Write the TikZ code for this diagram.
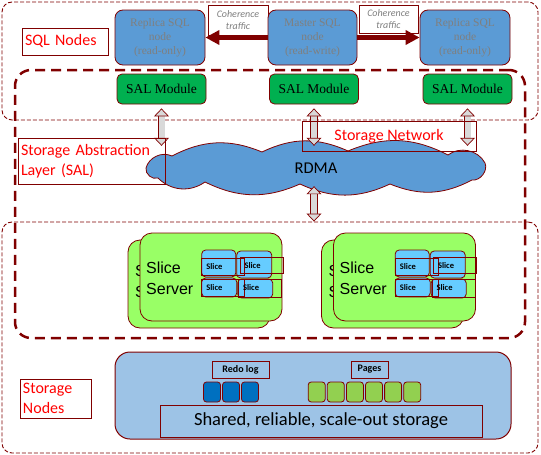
\documentclass[tikz,border=0pt]{standalone}
\usepackage{fontspec}
\setmainfont{Liberation Serif}
\newfontfamily\calibri{Carlito}
\newfontfamily\arialfont{Liberation Sans}
\usetikzlibrary{arrows.meta}
\definecolor{borderRed}{RGB}{128,0,0}
\definecolor{labelRed}{RGB}{255,0,0}
\definecolor{sqlBlue}{RGB}{91,155,213}
\definecolor{salGreen}{RGB}{0,176,80}
\definecolor{serverGreen}{RGB}{153,255,102}
\definecolor{sliceBlue}{RGB}{102,204,255}
\definecolor{storeBlue}{RGB}{157,195,230}
\definecolor{redoBlue}{RGB}{0,112,192}
\definecolor{pageGreen}{RGB}{146,208,80}
\definecolor{arrowGray}{RGB}{217,217,217}
\definecolor{textGray}{RGB}{127,127,127}
\tikzset{
    thin zone/.style={draw=borderRed, line width=0.9pt, dash pattern=on 4pt off 2pt, rounded corners=10pt, inner sep=0},
    thick zone/.style={draw=borderRed, line width=2.5pt, dash pattern=on 10pt off 6pt, rounded corners=16pt, inner sep=0},
    sqlnode/.style={draw=borderRed, fill=sqlBlue, rounded corners=8pt, line width=0.8pt, minimum width=90pt, minimum height=55pt, align=center, text=textGray, font=\fontsize{11.5}{14}\selectfont},
    salmodule/.style={draw=borderRed, fill=salGreen, rounded corners=5pt, line width=0.8pt, minimum width=89pt, minimum height=30pt, font=\fontsize{13.5}{16}\selectfont},
    cohlabel/.style={draw=borderRed, fill=white, line width=0.8pt, align=center, text=textGray, inner sep=0, font=\calibri\itshape\fontsize{10}{11.5}\selectfont},
    coharrow/.style={draw=borderRed, line width=4.5pt, -{Triangle[length=14pt, width=14pt]}},
    redlabel/.style={draw=borderRed, line width=0.8pt, text=labelRed, inner sep=3pt, align=left, font=\calibri\fontsize{16}{20}\selectfont},
    dblarrow/.style={draw=borderRed, line width=0.7pt, double=arrowGray, double distance=6pt,
        {Triangle[length=8pt, width=15pt, fill=arrowGray, line width=0.7pt]}-{Triangle[length=8pt, width=15pt, fill=arrowGray, line width=0.7pt]}},
    cloudline/.style={draw=borderRed, fill=sqlBlue, line width=0.8pt},
    server/.style={draw=borderRed, fill=serverGreen, rounded corners=12pt, line width=0.8pt, minimum width=142pt, minimum height=88pt},
    servertext/.style={anchor=west, align=left, inner sep=0, font=\arialfont\fontsize{16}{21}\selectfont},
    slicebox/.style={draw=borderRed, fill=sliceBlue, rounded corners=4pt, line width=0.8pt, inner sep=0},
    sliceframe/.style={draw=borderRed, line width=0.8pt, inner xsep=4.5pt, inner ysep=0, text width=34pt, align=left, minimum height=17pt, font=\calibri\bfseries\fontsize{8.5}{10}\selectfont},
    storebox/.style={draw=borderRed, fill=storeBlue, rounded corners=15pt, line width=1pt},
    block/.style={draw=borderRed, rounded corners=3pt, line width=0.8pt, minimum width=17pt, minimum height=20pt, inner sep=0},
    smalllabel/.style={draw=borderRed, line width=0.8pt, minimum height=17pt, inner sep=0, font=\calibri\bfseries\fontsize{10}{12}\selectfont},
    sharedbox/.style={draw=borderRed, line width=0.8pt, minimum width=322pt, minimum height=32pt, font=\calibri\fontsize{18.5}{22}\selectfont}
}

\begin{document}
\begin{tikzpicture}[x=1pt, y=-1pt]
    \useasboundingbox (0,0) rectangle (541,455);

    % dashed zones
    \node[thin zone, minimum width=536pt, minimum height=118pt] (sqlzone) at (270,61) {};
    \node[thin zone, minimum width=536pt, minimum height=231pt] (storezone) at (270,337.5) {};
    \node[thick zone, minimum width=510pt, minimum height=268pt] (salzone) at (270,204) {};

    % SQL nodes and coherence traffic
    \node[cohlabel, minimum width=60pt, minimum height=30pt] (cohL) at (238,20) {Coherence\\traffic};
    \node[cohlabel, minimum width=59pt, minimum height=28pt] (cohR) at (388.5,19) {Coherence\\traffic};
    \node[sqlnode] (repL) at (160,37.5) {Replica SQL\\node\\(read-only)};
    \node[sqlnode, minimum width=89pt] (master) at (312.5,37.5) {Master SQL\\node\\(read-write)};
    \node[sqlnode] (repR) at (465,37.5) {Replica SQL\\node\\(read-only)};
    \draw[coharrow] (master.west) -- (repL.east);
    \draw[coharrow] (master.east) -- (repR.west);

    % SAL modules
    \node[salmodule] (salL) at (161.5,89) {SAL Module};
    \node[salmodule] (salM) at (314,89) {SAL Module};
    \node[salmodule] (salR) at (467.5,89) {SAL Module};

    % storage network cloud
    \draw[cloudline] (146,168) to[bend left=50] (172,156) to[bend left=25] (262,152)
        to[bend left=25] (348,151) to[bend left=25] (448,155) to[bend left=50] (485,163)
        to[bend left=60] (472,180) to[bend left=25] (390,184) to[bend left=25] (300,184)
        to[bend left=25] (205,182) to[bend left=40] (158,178) to[bend left=60] (146,168) -- cycle;
    \node[minimum width=344pt, minimum height=44pt, inner sep=0, font=\calibri\fontsize{16.5}{20}\selectfont] (rdma) at (316,168) {RDMA};
    \foreach \s in {salL, salM, salR}
        \draw[dblarrow] ([yshift=-4pt]\s.south) -- (\s.south |- rdma.north);
    \draw[dblarrow] ([yshift=4pt]salM.south |- rdma.south) -- (salM.south |- storezone.north);

    % labels
    \node[redlabel, text width=80pt, minimum height=27pt] (sqllab) at (65,41.5) {SQL Nodes};
    \node[redlabel, text width=141pt, minimum height=46pt] (sallab) at (91.5,161) {Storage Abstraction\\Layer (SAL)};
    \node[redlabel, minimum width=174pt, minimum height=30pt, align=center] (netlab) at (389,136) {Storage Network};
    \node[redlabel, text width=65pt, minimum height=39pt] (stlab) at (55.5,398.5) {Storage\\Nodes};

    % slice servers
    \foreach \g/\dx in {a/0, b/193.5} {
        \begin{scope}[xshift=\dx pt]
            \node[server] (back\g) at (199,284) {};
            \node[servertext] (backtxt\g) at (135,281) {S\\S};
            \node[server] (front\g) at (211,277) {};
            \node[servertext] (fronttxt\g) at (146,278) {Slice\\Server};
            \node[slicebox, minimum width=34pt, minimum height=27pt] (slice\g1) at (218.7,263.5) {};
            \node[slicebox, minimum width=35pt, minimum height=27pt] (slice\g2) at (254.2,264.5) {};
            \node[slicebox, minimum width=35pt, minimum height=19pt] (slice\g3) at (219.2,287.5) {};
            \node[slicebox, minimum width=35pt, minimum height=19pt] (slice\g4) at (255.2,288.5) {};
            \node[sliceframe] (frame\g1) at (223.3,266.5) {Slice};
            \node[sliceframe, minimum height=15.6pt] (frame\g2) at (261.5,265.5) {Slice};
            \node[sliceframe] (frame\g3) at (223.3,288) {Slice};
            \node[sliceframe, minimum height=18pt] (frame\g4) at (260,288) {Slice};
        \end{scope}
    }

    % storage nodes
    \node[storebox, minimum width=396pt, minimum height=87pt] (store) at (313,395.5) {};
    \node[smalllabel, minimum width=57pt] (redolab) at (240.5,369.5) {Redo log};
    \node[smalllabel, minimum width=37pt] (pagelab) at (369.5,369.5) {Pages};
    \foreach \i/\x in {1/212, 2/231, 3/250}
        \node[block, fill=redoBlue] (redo\i) at (\x,392) {};
    \foreach \i in {1,...,6}
        \node[block, fill=pageGreen] (page\i) at ({316.7+19.1*(\i-1)},392) {};
    \node[sharedbox] (shared) at (321,421) {Shared, reliable, scale-out storage};
\end{tikzpicture}
\end{document}
